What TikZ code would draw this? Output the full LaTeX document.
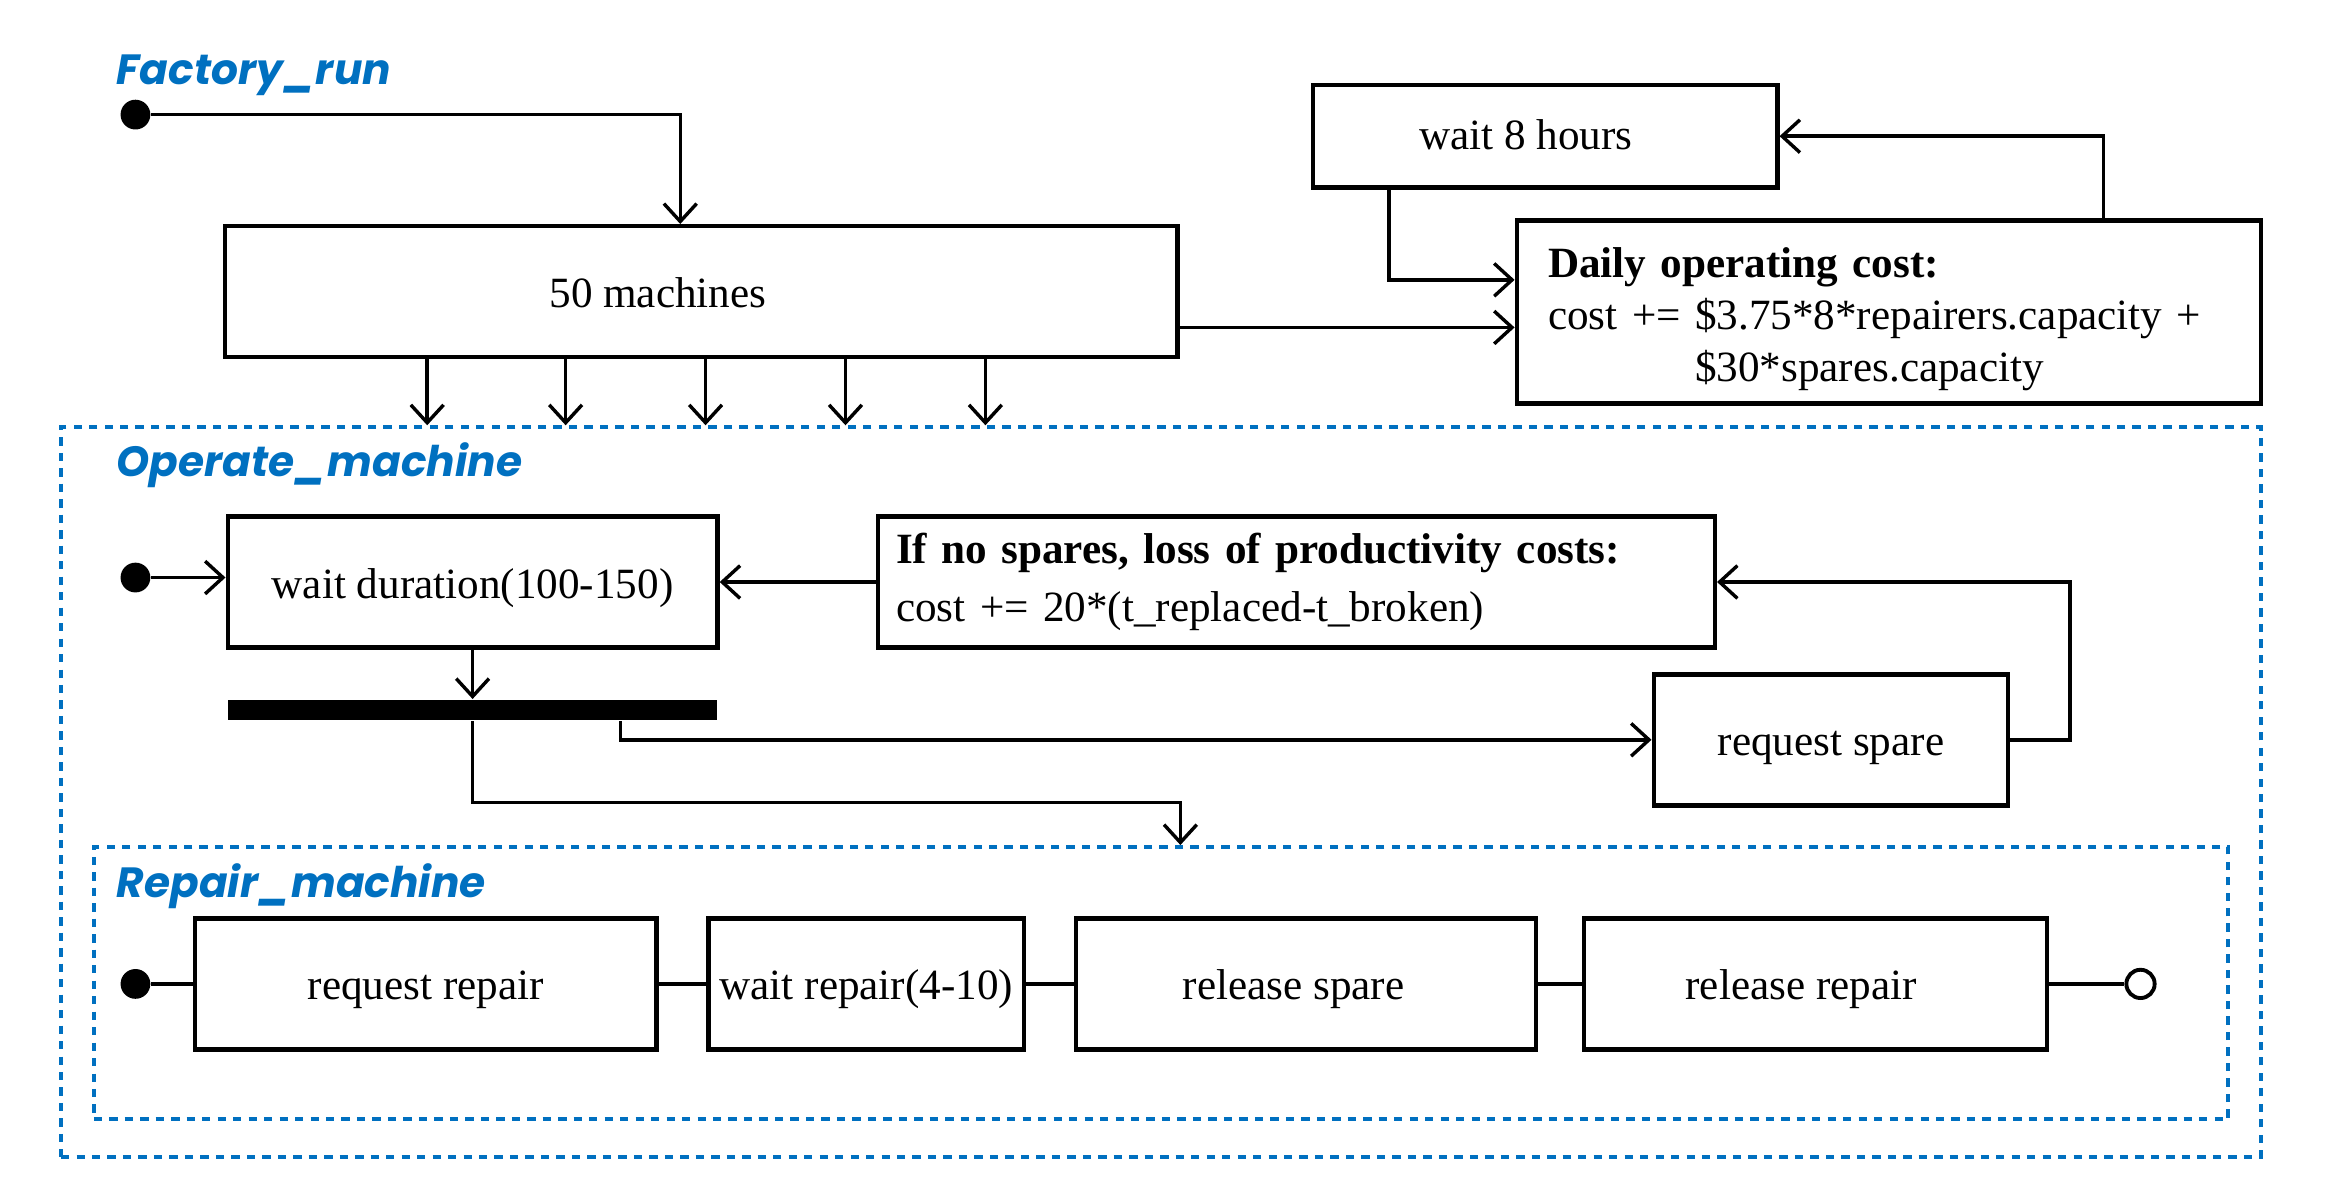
\documentclass[tikz,border=0pt]{standalone}
\usepackage{fontspec}
\setmainfont{Liberation Serif}
\newfontfamily\titlefont{Poppins}
\usetikzlibrary{arrows.meta,calc}
\definecolor{ublue}{RGB}{0,112,192}
\begin{document}
\begin{tikzpicture}[x=0.5pt,y=-0.5pt,
  box/.style={draw,line width=1.5pt,rectangle,inner sep=0pt,minimum height=44pt,fill=white,
    text height=14.8pt,text depth=4pt,font=\fontsize{14.5}{17.5}\selectfont},
  mbox/.style={draw,line width=1.5pt,rectangle,inner sep=0pt,fill=white,align=left},
  conn/.style={line width=1.15pt},
  arr/.style={conn,-{Straight Barb[length=6pt,width=11pt]}},
  chainline/.style={line width=1.3pt},
  frame/.style={draw=ublue,line width=1.3pt,dash pattern=on 2.8pt off 2.4pt,rectangle,inner sep=0pt},
  title/.style={text=ublue,font=\titlefont\bfseries\itshape\fontsize{14.2}{18}\selectfont,anchor=base west,inner sep=0pt},
  startdot/.style={circle,fill=black,inner sep=0pt,minimum size=10pt},
  enddot/.style={circle,draw=black,line width=1.3pt,fill=white,inner sep=0pt,minimum size=9.5pt}]
\useasboundingbox (0,0) rectangle (1568,806);

% frames
\node[frame,minimum width=739pt,minimum height=245pt] (op) at (780,532) {};
\node[frame,minimum width=717pt,minimum height=91.5pt] (rp) at (780,660.5) {};

% titles
\node[title] (t1) at (78,57) {Factory\_run};
\node[title] (t2) at (78,320) {Operate\_machine};
\node[title] (t3) at (78,603) {Repair\_machine};

% Factory run
\node[startdot] (fdot) at (91,77) {};
\node[box,minimum width=320pt] (m50) at (471,196) {50 machines\hspace*{29pt}};
\node[box,minimum width=156pt,minimum height=34.5pt,text height=12.9pt] (w8) at (1038,91.5) {wait 8 hours\hspace*{13pt}};
\node[mbox,minimum width=250pt,minimum height=61.5pt,inner xsep=10.5pt,inner ysep=0pt,text width=229pt,
  text height=14.9pt,font=\fontsize{14.5}{17.5}\selectfont] (daily) at (1269,209.5)
  {\textbf{Daily operating cost:}\\cost += \$3.75*8*repairers.capacity +\\\phantom{cost += }\$30*spares.capacity};

\draw[arr] (fdot.east) -| ([xshift=-7pt]m50.north);
\foreach \dx in {-92,-45.5,1.5,48.5,95.5}
  \draw[arr] ([xshift=\dx pt]m50.south) -- ([xshift=\dx pt]m50.south |- op.north);
\draw[arr] ([yshift=-12pt]m50.east) -- ([yshift=-12pt]m50.east -| daily.west);
\draw[arr] ([xshift=-52.5pt]w8.south) |- ([yshift=10.75pt]daily.west);
\draw[arr] ([xshift=72pt]daily.north) |- (w8.east);

% Operate machine
\node[startdot] (odot) at (91,388) {};
\node[box,minimum width=164.5pt] (wd) at (317.5,391) {wait duration(100-150)};
\node[mbox,minimum width=281pt,minimum height=44pt,inner xsep=6pt,inner ysep=0pt,text width=269pt,
  font=\fontsize{14.5}{19.5}\selectfont] (ifno) at (871,391)
  {\textbf{If no spares, loss of productivity costs:}\\cost += 20*(t\_replaced-t\_broken)};
\node[rectangle,fill=black,inner sep=0pt,minimum width=164.5pt,minimum height=7pt] (bar) at (317.5,477) {};
\node[box,minimum width=119pt] (rs) at (1230,497) {request spare};
\coordinate (j1) at (793,539);

\draw[arr] (odot.east) -- (odot -| wd.west);
\draw[arr] (ifno.west) -- (wd.east);
\draw[arr] (wd.south) -- (bar.north);
\draw[arr] ([xshift=49.75pt]bar.south) |- (rs.west);
\draw[arr] (rs.east) -- ++(40,0) |- (ifno.east);
\draw[arr] (bar.south) |- (j1) -- (j1 |- rp.north);

% Repair machine
\node[startdot] (rdot) at (91,661) {};
\node[box,minimum width=155pt] (rr) at (286,661) {request repair};
\node[box,minimum width=106pt] (wr) at (582,661) {wait repair(4-10)};
\node[box,minimum width=154.5pt] (rls) at (877.5,661) {release spare\hspace*{8.5pt}};
\node[box,minimum width=155.5pt] (rlr) at (1219.5,661) {release repair\hspace*{9.5pt}};
\node[enddot] (edot) at (1438,661) {};

\draw[chainline] (rdot.east) -- (rr.west);
\draw[chainline] (rr.east) -- (wr.west);
\draw[chainline] (wr.east) -- (rls.west);
\draw[chainline] (rls.east) -- (rlr.west);
\draw[chainline] (rlr.east) -- (edot.west);
\end{tikzpicture}
\end{document}
